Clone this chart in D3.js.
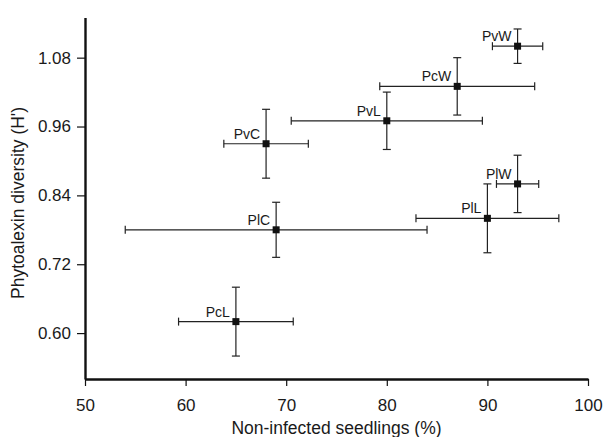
<html>
<head>
<meta charset="utf-8" />
<title>Phytoalexin diversity</title>
<script src="https://d3js.org/d3.v7.min.js"></script>
<style>
  body { margin: 0; background: #fff; }
  text { font-family: "Liberation Sans", Arial, sans-serif; fill: #1a1a1a; }
  .axis path, .axis line { stroke: #111; }
  .axis path { stroke-width: 2.4; }
  .axis line { stroke-width: 1.2; }
  .err { stroke: #222; stroke-width: 1.2; }
</style>
</head>
<body>
<script>
// data
var labels = ["PvW", "PcW", "PvL", "PvC", "PlW", "PlL", "PlC", "PcL"];
var seedlings = [93, 87, 80, 68, 93, 90, 69, 65];
var seedlingsErr = [2.5, 7.7, 9.5, 4.2, 2.1, 7.1, 15, 5.7];
var diversity = [1.10, 1.03, 0.97, 0.93, 0.86, 0.80, 0.78, 0.62];
var diversityErr = [0.03, 0.05, 0.05, 0.06, 0.05, 0.06, 0.048, 0.06];
var xTicks = [50, 60, 70, 80, 90, 100];
var yTicks = [0.60, 0.72, 0.84, 0.96, 1.08];

var width = 603, height = 437;
var margin = {left: 85, right: 588, top: 17.5, bottom: 379};

var svg = d3.select("body").append("svg")
  .attr("width", width)
  .attr("height", height);

var x = d3.scaleLinear().domain([50, 100]).range([margin.left, margin.right]);
var y = d3.scaleLinear().domain([0.52, 1.15]).range([margin.bottom, margin.top]);

var data = labels.map(function(l, i) {
  return {label: l, x: seedlings[i], xe: seedlingsErr[i], y: diversity[i], ye: diversityErr[i]};
});

// axes
var xAxis = svg.append("g").attr("class", "axis")
  .attr("transform", "translate(0," + margin.bottom + ")")
  .call(d3.axisBottom(x).tickValues(xTicks).tickSizeInner(7).tickSizeOuter(0).tickPadding(13));
xAxis.selectAll("text").attr("font-size", "17px").attr("font-family", null);

var yAxis = svg.append("g").attr("class", "axis")
  .attr("transform", "translate(" + margin.left + ",0)")
  .call(d3.axisLeft(y).tickValues(yTicks).tickFormat(d3.format(".2f")).tickSizeInner(8).tickSizeOuter(0).tickPadding(6));
yAxis.selectAll("text").attr("font-size", "17px").attr("font-family", null);

svg.append("text")
  .attr("x", (margin.left + margin.right) / 2)
  .attr("y", 434)
  .attr("text-anchor", "middle")
  .attr("font-size", "17.5px")
  .text("Non-infected seedlings (%)");

svg.append("text")
  .attr("transform", "translate(24,203) rotate(-90)")
  .attr("text-anchor", "middle")
  .attr("font-size", "17.5px")
  .text("Phytoalexin diversity (H')");

// error bars
var cap = 4;
var g = svg.append("g").selectAll("g.pt").data(data).enter().append("g").attr("class", "pt");

g.append("line").attr("class", "err")
  .attr("x1", d => x(d.x - d.xe)).attr("x2", d => x(d.x + d.xe))
  .attr("y1", d => y(d.y)).attr("y2", d => y(d.y));
g.append("line").attr("class", "err")
  .attr("x1", d => x(d.x - d.xe)).attr("x2", d => x(d.x - d.xe))
  .attr("y1", d => y(d.y) - cap).attr("y2", d => y(d.y) + cap);
g.append("line").attr("class", "err")
  .attr("x1", d => x(d.x + d.xe)).attr("x2", d => x(d.x + d.xe))
  .attr("y1", d => y(d.y) - cap).attr("y2", d => y(d.y) + cap);

g.append("line").attr("class", "err")
  .attr("x1", d => x(d.x)).attr("x2", d => x(d.x))
  .attr("y1", d => y(d.y - d.ye)).attr("y2", d => y(d.y + d.ye));
g.append("line").attr("class", "err")
  .attr("x1", d => x(d.x) - cap).attr("x2", d => x(d.x) + cap)
  .attr("y1", d => y(d.y - d.ye)).attr("y2", d => y(d.y - d.ye));
g.append("line").attr("class", "err")
  .attr("x1", d => x(d.x) - cap).attr("x2", d => x(d.x) + cap)
  .attr("y1", d => y(d.y + d.ye)).attr("y2", d => y(d.y + d.ye));

// markers
g.append("rect")
  .attr("x", d => x(d.x) - 3.5).attr("y", d => y(d.y) - 3.5)
  .attr("width", 7).attr("height", 7)
  .attr("fill", "#111");

g.append("text")
  .attr("x", d => x(d.x) - 6)
  .attr("y", d => y(d.y) - 5)
  .attr("text-anchor", "end")
  .attr("font-size", "14px")
  .text(d => d.label);
</script>
</body>
</html>
